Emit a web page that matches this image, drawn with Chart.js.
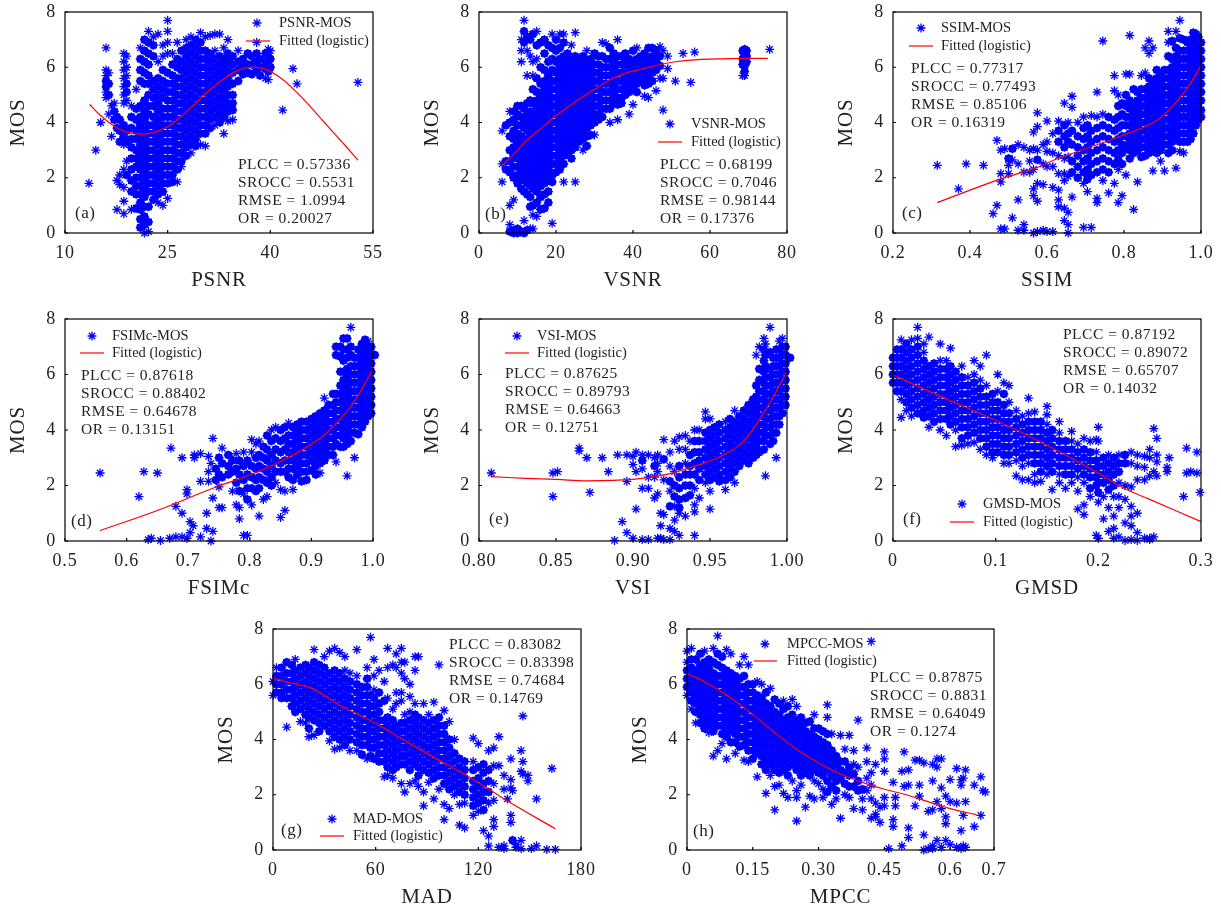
<!DOCTYPE html>
<html>
<head>
<meta charset="utf-8">
<title>MOS scatter plots</title>
<script src="https://cdn.jsdelivr.net/npm/chart.js@4"></script>
<style>
  body { margin: 0; background: #fff; }
  canvas { position: absolute; }
</style>
</head>
<body>
<script>
// each row: x value, then the MOS values at that x
const psnrCols = [
  [13.5,1.8],[14.5,3],[15.2,4],[16,6.7,5.9,5.7,5.5,5.3,5.1,4.9],[16.4,5.8,5.4,5,4.3],[16.8,3.5,4.6],[17.2,4.7,4.4,4.1],
  [17.6,1.9,4.2,3.8,.85],[18,4.1,3.7,3.3,2.1,1.75],[18.6,6.5,6.2,5.9,5.6,5.3,5,4.7,3.9,3.5,3.2,2.3,1.65,1.15,.7],
  [19,6.4,6,5.7,5.4,5.1,4.8,3.7,3.3,2.6,2.1],[19.7,4.6,4.2,3.8,3.4,3.1,2.7,2.3,1.9,1.5,.85],
  [20.4,5.2,4.5,4.1,3.7,3.4,3,2.7,2.4,2,1.7,1.4,.9],
  [21,6.7,6.3,5.9,5.5,4.6,4.2,3.9,3.5,3.2,2.9,2.6,2.3,2,1.7,1.4,1.1,.85,.5,.2],
  [21.6,7,6.6,6.2,5.8,5.4,4.8,4.4,4.1,3.7,3.4,3.1,2.8,2.5,2.2,1.9,1.6,1.3,.95,.6,.3,0],
  [22.2,7.3,6.9,6.5,6.1,5.7,5.4,5,4.6,4.3,3.9,3.6,3.3,3,2.7,2.4,2.1,1.8,1.5,.95,.4,.05],
  [22.9,7.1,6.8,6.4,5.5,5.2,4.9,4.6,4.2,3.9,3.6,3.3,3,2.7,2.4,2.1,1.8,1.5,1.2],
  [23.6,7.2,6.2,5.6,5.3,5,4.7,4.4,4.1,3.8,3.5,3.2,2.9,2.6,2.3,2,1.7,1.4,1.1],
  [24.3,6.8,6.4,5.9,5.5,5.2,4.9,4.5,4.2,3.9,3.6,3.3,3,2.7,2.4,2.1,1.8,1.5,1],
  [25,7.7,7.3,6.9,6.5,5.8,5.4,5.1,4.8,4.5,4.2,3.9,3.6,3.3,3,2.7,2.4,2.1,1.8,1.25],
  [25.7,6.5,6.1,5.7,5.4,5.1,4.8,4.5,4.2,3.9,3.6,3.3,3,2.7,2.4,2.1,1.85],
  [26.4,6.9,6.3,6,5.6,5.3,5,4.7,4.4,4.1,3.8,3.5,3.2,2.9,2.6,2.3,1.85],
  [27,6.6,6.2,5.9,5.6,5.3,5,4.7,4.4,4.1,3.8,3.5,3.2,2.9,2.6,2.4],
  [27.7,7,6.7,6.4,6.1,5.8,5.5,5.2,4.9,4.6,4.3,4,3.7,3.4,3.1,2.8],
  [28.4,7.1,6.8,6.5,6.2,5.9,5.6,5.3,5,4.7,4.4,4.1,3.8,3.5,3.2,2.9],
  [29.1,7,6.7,6.4,6.1,5.8,5.5,5.2,4.9,4.6,4.3,4,3.7,3.4,3.15],
  [29.8,7.25,6.9,6.6,6.3,6,5.7,5.4,5.1,4.8,4.5,4.2,3.9,3.6,3.2],
  [30.5,7.1,6.6,6.3,6,5.7,5.4,5.1,4.8,4.5,4.2,3.9,3.6,3.15],
  [31.2,7.15,6.5,6.2,5.9,5.6,5.3,5,4.7,4.4,4.1,3.8],
  [31.9,7.2,6.6,6.3,6,5.7,5.4,5.1,4.8,4.5,4.2,3.9],
  [32.6,7.2,6.4,6.1,5.8,5.5,5.2,4.9,4.6,4.3,4],
  [33.2,6.7,6.3,6,5.7,5.4,5.1,4.8,4.5,4.2,3.6],
  [33.8,7,6.5,6.2,5.9,5.6,5.3,5,4.7,4.4,4.05],
  [34.5,6.4,6.1,5.8,5.4,5,4.7,4.45,4.1],[35.3,6.6,6.2,5.9,5.5],[36,6.3,6,5.75],[36.7,6.5,6.1,5.8],
  [37.3,6.4,6.1,5.75],[38,6.9,6.5,6.2,5.9],[38.5,6.3,6,5.7],[39.3,6.5,6.2,5.95,5.6],[39.7,6.65,6.4,6.1,5.85,5.55],[40,6.6,6.3,6],
  [41.8,4.45],[43.3,5.95],[43.9,5.4],[52.8,5.45]
];
const psnrFit = [[13.6,4.65],[15,4.3],[17,3.9],[19,3.65],[21.3,3.58],[23,3.64],[25,3.85],[27,4.22],[29,4.68],[31,5.15],[33,5.55],[35,5.86],[36.9,6],[39,5.95],[41,5.7],[43,5.3],[45,4.8],[47,4.25],[49,3.7],[51,3.15],[52.8,2.64]];

const vsnrCols = [
  [6,2.5,1.85,3.7],[7,2.6,2.3,3.9],[8,4.4,4,3.5,3,2.6,2.2,1,.3,.05],[9,4.4,4.1,3.7,3.4,3.1,2.8,2.4,2,1.2,.1,0],
  [10,4.6,4.3,3.9,3.6,3.3,3,2.7,2.4,2.1,1.8,.15,0],[11,7,6.6,6.2,4.6,4.2,3.9,3.5,3.2,2.9,2.6,2.3,2,1.6,.05],
  [11.7,7.7,7.3,6.9,4.5,4.1,3.8,3.4,3.1,2.8,2.5,2.2,1.9,1.5,.45,0],[12.5,7.1,6.6,5.7,4.7,4.3,4,3.7,3.3,3,2.7,2.4,2.1,1.8,1.4,.1],
  [13.3,7,6.4,4.8,4.4,4.1,3.8,3.5,3.2,2.9,2.6,2.3,2,1.7,1.3,.95,.15],[14,7.2,6.2,5.7,5.2,4.7,4.3,4,3.7,3.4,3.1,2.8,2.5,2.2,1.9,1.6,1,.65,.15],
  [15,7.3,6.8,6.3,5.6,5.1,4.8,4.5,4.2,3.9,3.6,3.3,3,2.7,2.4,2.1,1.8,1.5,1.1,.6],
  [16,6.9,6,5.4,5,4.7,4.4,4.1,3.8,3.5,3.2,2.9,2.6,2.3,2,1.7,1.3,.85],[17,7,6.5,5.9,5.5,5.2,4.8,4.5,4.2,3.9,3.6,3.3,3,2.7,2.4,2.1,1.8,1.4,.9],
  [18,6.8,6.2,5.7,5.3,5,4.7,4.4,4.1,3.8,3.5,3.2,2.9,2.6,2.3,1.9,1.5,1.1],[19,7.2,6.7,6.3,5.9,5.5,5.2,4.9,4.6,4.3,4,3.7,3.4,3.1,2.8,2.5,2.1,1.85,.35],
  [20,7,6.6,6.2,5.8,5.5,5.2,4.9,4.6,4.3,4,3.7,3.4,3.1,2.8,2.5,2.2],[21,7.2,6.7,6.3,6,5.6,5.3,5,4.7,4.4,4.1,3.8,3.5,3.2,2.9,2.6,2.3],
  [22,7.2,6.9,6.4,6.1,5.8,5.5,5.2,4.9,4.6,4.3,4,3.7,3.4,3.1,2.8,2.5,1.85],[23,6.5,6.2,5.9,5.6,5.3,5,4.7,4.4,4.1,3.8,3.5,3.2,2.9],
  [24,6.8,6.3,6,5.7,5.4,5.1,4.8,4.5,4.2,3.9,3.6,3.3,3,2.7],[25,7.25,6.4,6.1,5.8,5.5,5.2,4.9,4.6,4.3,4,3.7,3.4,3.1,1.85],
  [26,6.3,6,5.7,5.4,5.1,4.8,4.5,4.2,3.9,3.6,3.3],[27,6.4,6.1,5.8,5.5,5.2,4.9,4.6,4.3,4,3.7,3.4,3],[28,6.6,6.2,5.9,5.6,5.3,5,4.7,4.4,4.1,3.8,3.5,3.15],
  [29,6.3,6,5.7,5.4,5.1,4.8,4.5,4.2,3.9,3.55],[30,6.5,6.1,5.8,5.5,5.2,4.9,4.6,4.3,4,3.55],[31,6.4,6.1,5.8,5.5,5.2,4.9,4.6,4.3,4.1],
  [32,6.9,6.4,6,5.7,5.4,5.1,4.8,4.5,4.2],[33,6.85,6.3,6,5.7,5.4,5.1,4.8,4.5],[34,6.7,6.3,6,5.7,5.4,5.1,4.8,4.5,4],
  [35,6.5,6.2,5.9,5.6,5.3,5,4.7],[36,7,6.4,6.1,5.8,5.5,5.2,4.9,4.65,4.1],[37,6.4,6.1,5.8,5.5,5.2,4.9,4.7],[38,6.5,6.2,5.9,5.6,5.3,5],
  [39,6.3,6,5.7,5.4,5.1,4.3],[40,6.6,6.2,5.9,5.6,5.3,4.65],[41,6.7,6.3,6,5.7,5.4,5.1],[42,6.4,6.1,5.8,5.5],[43,6.5,6.2,5.9,5.6,5.35,4.95],
  [44,6.7,6.3,6,5.7,5.4,4.9],[45,6.7,6.4,6.1,5.8,5.5],[46,6.6,6.2,5.9,5.15],[47,6.75,6.4,6.05,5.6],[47.8,6.6,5.6,4.45],[49,6.4,5.95],[51,5.5],
  [53,6.5],[55,5.45],[56,6.55],[68.5,6.6,6.3,6.1,5.7],[69,6.65,6.45,6.25,6.05,5.85,5.7],[69.5,6.6,6.4,6.2],[75.5,6.65]
];
const vsnrFit = [[6,2.45],[8,2.7],[10,3],[12,3.3],[14,3.55],[16.7,3.85],[20,4.25],[25,4.75],[30,5.2],[34,5.55],[38,5.78],[42.7,5.95],[47,6.1],[51,6.2],[56,6.27],[62,6.3],[68,6.32],[75,6.32]];

const ssimCols = [
  [.315,2.45],[.37,1.6],[.39,2.5],[.435,2.45],[.46,.7],[.47,3.35,1],[.48,3,2.15,1.85,.15],[.49,3.05,.15],[.5,2.7,2.45,2.15],[.51,3.05,2.65,.55],
  [.525,3.2,2.5,1.2,.1],[.54,3.1,2.2,.3,.1],[.555,3,2.6,2.2],[.565,3.65,3.05,2.3,1.6,1.35,0],[.575,4.35,3.85,3,2.65,1.8,1.15,.05],[.59,3.2,2.5,1.75,.1],
  [.6,4.05,3.3,2.95,2.4,0.05],[.615,3.6,2.9,2.4,1.65,.05],[.63,4.05,3.7,3.3,2.8,2.15,1.55,1.2,.95],[.645,4.7,3.9,3.5,3.1,2.7,2.15,1.9,.9,.45],[.655,4,3.6,3.3,2.75,2.05,.75,.3,0],
  [.665,4.95,4.55,3.7,3.2,2.6,2.2,1.3],[.68,4,3.5,3.1,2.8,2.4,2],[.695,4.2,3.8,3.4,3,2.6,2.2,1.8,.2],[.705,3.9,3.5,3.1,2.7,2.3,1.95,1.5],[.715,4.25,3.7,3.3,2.9,2.5,2.1,.2],
  [.73,5.1,4.2,3.8,3.4,3,2.6,2.2,1.25,1.1],[.745,6.95,4.3,3.9,3.5,3.1,2.7,2.3,1.9],[.76,4.2,3.8,3.4,3,2.6,2.2,1.45],[.775,5.7,5.15,4.1,3.7,3.3,2.9,2.5,1.8],[.785,5,4.6,4.2,3.8,3.4,3,2.65,2.3,1.1],
  [.795,4.7,4.3,3.9,3.5,3.2,2.9,2.5,1.35],[.805,5.75,5,4.6,4.2,3.9,3.5,3.1,2.1],[.815,7.15,5.75,4.8,4.5,4.2,3.9,3.6,3.3,3,2.7],[.825,5.2,4.7,4.4,4.1,3.8,3.5,3.2,2.9,.85],
  [.835,5.1,4.8,4.5,4.2,3.9,3.6,3.3,3,1.85],[.845,5.7,5.2,4.9,4.6,4.3,4,3.7,3.4,3.1,2.75],[.855,6.7,5.8,5.2,4.9,4.6,4.3,4,3.7,3.4,3.1,2.8],[.865,6.95,6.5,5.6,5.3,5,4.7,4.4,4.1,3.8,3.5,3.2,2.9],
  [.875,6.7,5.4,5.1,4.8,4.5,4.2,3.9,3.6,3.3,3,2.25],[.885,5.9,5.6,5.3,5,4.7,4.4,4.1,3.8,3.5,3.2,2.9],[.895,5.75,5.4,5.1,4.8,4.5,4.2,3.9,3.6,3.3,3,2.6],[.905,5.9,5.6,5.3,5,4.7,4.4,4.1,3.8,3.5,3.2,2.25],
  [.915,7.3,6.9,6.4,5.9,5.6,5.3,5,4.7,4.4,4.1,3.8,3.5,3.2,2.9],[.925,6.95,6.3,6,5.7,5.4,5.1,4.8,4.5,4.2,3.9,3.6,3.3,3],[.935,7.3,6.7,6.4,6.1,5.8,5.5,5.2,4.9,4.6,4.3,4,3.7,3.4,2.35],
  [.945,7.7,7.05,6.6,6.3,6,5.7,5.4,5.1,4.8,4.5,4.2,3.9,3.6,3.3,2.95],[.955,7,6.6,6.3,6,5.7,5.4,5.1,4.8,4.5,4.2,3.9,3.6,3.3,2.9],[.965,6.9,6.6,6.3,6,5.7,5.4,5.1,4.8,4.5,4.2,3.9,3.6,3.3],
  [.973,7,6.7,6.4,6.1,5.8,5.5,5.2,4.9,4.6,4.3,4,3.7,3.4],[.98,7.25,6.95,6.6,6.3,6,5.7,5.4,5.1,4.8,4.5,4.2,3.9,3.6],[.987,7.2,6.9,6.6,6.3,6,5.7,5.4,5.1,4.8,4.5,4.2,3.9],
  [.993,7.1,6.8,6.5,6.2,5.9,5.6,5.3,5,4.7,4.4,4.1],[1,6.9,6.6,6.3,6,5.7,5.4,5.1,4.8,4.45,4.2],[1.005,6.4,6.1,5.8,5.5]
];
const ssimFit = [[.315,1.1],[.4,1.55],[.48,1.96],[.57,2.35],[.62,2.65],[.7,3.05],[.79,3.5],[.876,4],[.92,4.5],[.962,5.2],[1,6.05]];

const fsimCols = [
  [.557,2.45],[.62,1.6],[.628,2.5],[.635,.05],[.64,.1],[.65,2.45],[.655,.02],[.67,.1],[.672,3.35],[.68,1.25,.15],[.69,3,1,.15],[.698,1.85,1.7,.1],[.703,.7,.3],[.708,.55],[.71,3.1,3],
  [.72,3.15,2.15,.15],[.73,.45,1],[.733,3.05,2.5,2.15],[.737,2.8,0],[.74,3.7,1.55,.35],[.745,2.6,2.2],[.75,3,2.4,1.95,1.2],[.755,3.35,2.8,2.3,1.2],[.765,3.1,2.7,2.4],[.772,2.9,2.5,1.8],[.778,3.15,2.6,2.1,1.3],
  [.783,2.9,2.4,1.8,1.2,.8],[.79,3.2,2.7,2.2,1.7,.2],[.796,2.9,2.4,1.9,1.5,.2],[.803,3.65,3.2,2.7,2.3,1.9,1.3],[.81,3.5,3,2.6,2.2,1.8],[.815,3.6,3.1,2.7,2.3,1.9,.9],[.822,3.4,3,2.6,2.2,1.5],[.828,3.8,3.3,2.9,2.5,2.1,1.6],
  [.835,4,3.6,3.1,2.7,2.3,2],[.842,4.1,3.7,3.3,2.9,2.5,2.1],[.85,4,3.6,3.2,2.8,2.5,1.85,.85],[.857,4.1,3.7,3.3,2.9,2.5,1.8,1.1],[.863,4.25,3.8,3.5,3.2,2.9,2.6,2.3],[.87,4.1,3.8,3.5,3.2,2.9,2.6,2.2,1.85],
  [.877,4.2,3.9,3.6,3.3,3,2.7,2.4],[.884,4.3,4,3.7,3.4,3.1,2.8,2.5,2.15],[.892,4.3,4,3.7,3.4,3.1,2.8,2.5,2.2],[.9,4.4,4.1,3.8,3.5,3.2,2.9,2.55],[.907,4.5,4.2,3.9,3.6,3.3,3,2.7,2.4],[.914,4.6,4.3,4,3.7,3.4,3.1,2.8,2.45],
  [.921,5.15,4.7,4.4,4.1,3.8,3.5,3.2,2.9],[.928,4.9,4.6,4.3,4,3.7,3.4,3.1],[.935,5.3,4.9,4.6,4.3,4,3.7,3.4,3.1],[.94,7,6.7,5.3,5,4.7,4.4,4.1,3.8,3.5,2.85],[.947,7,6.65,6.1,5.6,5.3,5,4.7,4.4,4.1,3.8,3.4],[.952,7.3,6.9,6.5,6.1,5.8,5.5,5.2,4.9,4.6,4.3,4,3.7,3.4],
  [.958,7.3,6.9,6.6,6.2,5.9,5.6,5.3,5,4.7,4.4,4.1,3.8,3.5,2.35],[.964,7.7,7,6.7,6.3,6,5.7,5.4,5.1,4.8,4.5,4.2,3.9,3.6],[.97,6.6,6.3,6,5.7,5.4,5.1,4.8,4.5,4.2,3.9,3],[.976,6.9,6.6,6.3,6,5.7,5.4,5.1,4.8,4.5,4.2,3.85],
  [.982,7.1,6.8,6.5,6.2,5.9,5.6,5.3,5,4.7,4.4,4.1],[.987,7.25,7,6.7,6.4,6.1,5.8,5.5,5.2,4.9,4.6,4.3],[.992,7.2,6.9,6.6,6.3,6,5.7,5.4,5.1,4.8,4.5],[.997,7,6.7,6.4,6.1,5.8,5.5,5.2,4.9,4.6],[1.003,6.7,6.4,6.1,5.8,5.5,5.2]
];
const fsimFit = [[.557,.38],[.65,1.1],[.74,1.9],[.806,2.43],[.86,2.98],[.914,3.7],[.947,4.4],[.969,5],[.985,5.6],[1,6.2]];

const vsiCols = [
  [.808,2.45],[.848,1.6,2.45],[.851,2.5],[.865,3.35,3.25],[.87,3],[.872,1.75],[.88,3],[.884,2.5],[.888,.02],[.89,3.1],[.893,.7],[.896,3.1,.3,2.15],[.9,3.05,2.75,.1],[.902,3.2,2.5,1.15],
  [.906,3.1,2.9,2.6,1.9,.05],[.91,3.1,2.3,1.9,.05],[.914,3,2.7,2.3,1.55],[.916,3.1,2.8,2.5,1.7,.1],[.918,1,.55,0.1],[.92,3.65,2.95,2.2,.95,.05],[.924,3.2,2.7,2.15,1.8,1.25,.45,.05],[.927,3.6,2.5,2,1.6,1.25,.75,.35],
  [.93,3.75,3.3,2.7,2.3,1.9,1.5,1.2,1,.2],[.934,3.8,3.3,2.8,2.4,2,1.55,.9],[.937,3.6,3.1,2.7,2.4,2,1.65],[.94,4,3.6,3.2,2.8,2.4,1.9,1.3,1.05,.2],[.943,4,3.6,3.2,2.9,2.6,2.2,1.55],[.947,4.65,4.4,3.9,3.6,3.3,3,2.7,2.4,2.1],
  [.95,4.4,4,3.7,3.4,3.1,2.8,2.5,2.2,1.8,1.15],[.953,4.1,3.8,3.5,3.2,2.9,2.6,2.3],[.956,4.2,3.9,3.6,3.3,3,2.7,2.4,2.15],[.96,4.3,4,3.7,3.4,3.1,2.8,2.5,2.2,1.85],[.963,4.4,4.1,3.8,3.5,3.2,2.9,2.6,2.3],
  [.966,4.7,4.3,4,3.7,3.4,3.1,2.8,2.5,2.1],[.969,4.5,4.2,3.9,3.6,3.3,3,2.7],[.972,4.7,4.4,4.1,3.8,3.5,3.2,2.9],[.975,4.9,4.6,4.3,4,3.7,3.4,3.1,2.8],[.978,5.1,4.8,4.5,4.2,3.9,3.6,3.3,3],
  [.98,6.7,5.6,5.2,4.9,4.6,4.3,4,3.7,3.4,3.1],[.982,7,6.2,5.8,5.4,5.1,4.8,4.5,4.2,3.9,3.6,3.2],[.985,7.3,6.9,6.5,6.1,5.7,5.4,5.1,4.8,4.5,4.2,3.9,3.6,3.3],[.986,7.1,6.7,6.3,5.9,5.6,5.3,5,4.7,4.4,4.1,3.8,2.35],
  [.989,7.7,6.8,6.2,5.9,5.6,5.3,5,4.7,4.4,4.1,3.8,3.5],[.991,6.6,6.3,6,5.7,5.4,5.1,4.8,4.5,4.2,3.9,3.6],[.993,6.9,6.6,6.3,6,5.7,5.4,5.1,4.8,4.5,4.2,3.9,3],[.995,7.2,6.9,6.6,6.3,6,5.7,5.4,5.1,4.8,4.5,4.2],
  [.997,7.3,7,6.7,6.4,6.1,5.8,5.5,5.2,4.9,4.6],[.999,7,6.7,6.4,6.1,5.8,5.5,5.2,4.9],[1.002,6.6,6.3,6,5.7,5.4,5.1]
];
const vsiFit = [[.808,2.32],[.83,2.26],[.85,2.22],[.87,2.17],[.9,2.22],[.92,2.38],[.94,2.7],[.955,3],[.97,3.5],[.98,4.2],[.99,5.1],[1,6.1]];

const gmsdCols = [
  [0,6.6,6.3,6,5.7],[.004,6.9,6.6,6.3,6,5.7,5.4],[.008,7.25,6.9,6.6,6.3,6,5.7,5.4,5.1,4.45],[.013,7.1,6.8,6.5,6.2,5.9,5.6,5.3,5,4.7],[.018,7.25,6.9,6.6,6.3,6,5.7,5.4,5.1,4.8,4.5],
  [.024,7.7,7.3,7,6.7,6.4,6.1,5.8,5.5,5.2,4.9,4.6],[.03,7.1,6.8,6.5,6.2,5.9,5.6,5.3,5,4.7,4.45],[.035,7.35,6.3,6,5.7,5.4,5.1,4.8,4.5,4.1],[.04,6.4,6.1,5.8,5.5,5.2,4.9,4.6,4.3],
  [.046,7.1,6.5,6.2,5.9,5.6,5.3,5,4.7,4.4,4],[.052,6.5,6.2,5.9,5.6,5.3,5,4.7,4.4,3.8],[.056,6.95,6.3,6,5.7,5.4,5.1,4.8,4.5,4.2],[.061,6.1,5.8,5.5,5.2,4.9,4.6,4.3,4,3.4],[.067,6.3,5.9,5.6,5.3,5,4.7,4.4,4.1,3.7,3.45],
  [.073,5.9,5.6,5.3,5,4.7,4.4,4.1,3.8,3.5],[.079,6.5,6,5.7,5.4,5.1,4.8,4.5,4.2,3.9,3.55],[.085,6.3,5.8,5.5,5.2,4.9,4.6,4.3,4,3.7,3.3],[.091,6.7,5.6,5.2,4.9,4.6,4.3,4,3.7,3.4,3.1],[.097,5.3,5,4.7,4.4,4.1,3.8,3.5,3.2,3],
  [.102,6,5.4,5,4.7,4.4,4.1,3.8,3.5,3.2],[.108,5.7,5.3,4.9,4.6,4.3,4,3.7,3.4,3.1,2.8],[.113,5.6,5,4.6,4.3,4,3.7,3.4,3.1,2.8],[.12,4.7,4.4,4.1,3.8,3.5,3.2,2.9,2.35],[.126,4.5,4.2,3.9,3.6,3.3,3,2.7,2.2],
  [.132,5.15,4.6,4.3,4,3.7,3.4,3.1,2.8,2.2],[.138,4.65,4.3,4,3.7,3.4,3.1,2.8,2.4,2.1],[.144,4.3,4,3.7,3.4,3.1,2.8,2.5,2.15],[.15,4.85,4.55,4.2,3.9,3.6,3.3,3,2.7,2.4],[.155,4,3.7,3.4,3.1,2.8,2.5,1.85],
  [.162,4.3,3.9,3.6,3.3,3,2.7,2.4,2.1],[.168,3.6,3.3,3,2.7,2.4,1.9],[.174,3.95,3.6,3.3,3,2.7,2.4,2.1],[.18,3.5,3.2,2.9,2.6,2.3,1.8,1.15],[.186,3.7,3.3,3,2.7,2.4,2.1,1.3,.95],[.192,3.6,3.2,2.9,2.6,2.3,1.9,1.6],
  [.198,3.65,3.2,2.9,2.6,2.3,2,.2],[.2,4.1,3.6,2.7,2.4,2.1,1.75,1.4,.1],[.205,3,2.7,2.4,2.1,1.6,.8],[.21,3.1,2.8,2.5,2.2,1.85,1.2,.35],[.215,3,2.7,2.4,2,1.6,.9,.45,.1],[.22,3.1,2.8,2.5,2.1,1.6,1.2,.15],
  [.226,3.1,2.8,2,1.5,.65,.02],[.232,3.2,2.8,1.95,1.25,.9,.55,.05],[.238,3.1,2.7,2.2,1,.3,.02],[.245,3.05,2.65,2.2,.1],[.25,3.3,3,2.35,.1,.05],[.254,4.05,2.5,.15],[.257,3.7,3.1,2.85,2.35],[.269,3],[.267,2.65,2.5],
  [.283,1.6],[.286,3.35,2.45],[.29,2.5],[.296,3.2,2.45],[.299,1.75]
];
const gmsdFit = [[0,5.98],[.05,5.15],[.1,4.35],[.15,3.45],[.2,2.45],[.225,1.9],[.25,1.5],[.3,.7]];

const madCols = [
  [0,6.1,5.6],[2,6.6,6.3,6,5.7],[5,6.6,6.3,6,5.7,5.5],[8,6.8,6.4,6.1,5.8,5.5,4.45],[11,6.7,6.4,6.1,5.8,5.5,5.2],[13,6.9,6.5,6.2,5.9,5.6,5.3,5],[16,6.6,6.3,6,5.7,5.4,5.1,4.65],[19,6.7,6.4,6.1,5.8,5.5,5.2,4.9,4.6],
  [21,6.6,6.3,6,5.7,5.4,5.1,4.8,4.4,4.1],[24,7.25,6.8,6.5,6.2,5.9,5.6,5.3,5,4.7,4.15],[27,6.7,6.4,6.1,5.8,5.5,5.2,4.9,4.6,4.3],[30,7,6.6,6.3,6,5.7,5.4,5.1,4.8,4.5],[33,7.2,6.4,6.1,5.8,5.5,5.2,4.9,4.6,4.3,3.95],[36,7.3,6.5,6.2,5.9,5.6,5.3,5,4.7,4.4,4.1,3.65],
  [39,7.15,6.4,6.1,5.8,5.5,5.2,4.9,4.6,4.3,4,3.7],[42,7,6.5,6.2,5.9,5.6,5.3,5,4.7,4.4,4.1,3.8],[45,6.4,6.1,5.8,5.5,5.2,4.9,4.6,4.3,4,3.6],[49,7.25,6.3,6,5.7,5.4,5.1,4.8,4.5,4.2,3.9,3.6],[52,5.9,5.6,5.3,5,4.7,4.4,4.1,3.8,3.45],
  [55,6.6,6.2,5.9,5.6,5.3,5,4.7,4.4,4.1,3.8,3.3],[57,7.7,5.6,5.2,4.9,4.6,4.3,4,3.7,3.4],[59,6.9,6.3,5.8,5.5,5.2,4.9,4.6,4.3,4,3.7,3.3],[62,6.5,5.7,5.3,5,4.7,4.4,4.1,3.8,3.5,3.2],[65,6.1,5.4,4.7,4.4,4.1,3.8,3.5,3.2,2.65],
  [67,7.3,6.6,5.5,4.8,4.5,4.2,3.9,3.6,3.3,3,2.7],[70,6.7,5.1,4.7,4.4,4.1,3.8,3.5,3.2,2.9,2.6],[72,7.1,6.6,5.7,5.3,4.5,4.2,3.9,3.6,3.3,3],[75,7.3,6.8,6.4,5.7,5.4,4.6,4.3,4,3.7,3.4,3.1,2.4],[77,6.8,6.2,4.9,4.6,4.3,4,3.7,3.4,3.1,2.1],
  [80,6,5.55,5,4.7,4.4,4.1,3.8,3.5,3.2,2.9,2.4],[83,7,6.5,5.3,4.9,4.6,4.3,4,3.7,3.4,3.1,2.5],[85,7,4.8,4.5,4.2,3.9,3.6,3.3,3,2.7,2.3],[88,5.3,4.7,4.4,4.1,3.8,3.5,3.2,2.9,2.1,1.6],[91,4.9,4.6,4.3,4,3.7,3.4,3.1,2.8,2.45],[94,5.35,4.7,4.4,4.1,3.8,3.5,3.2,2.9,2.6,1.85],
  [97,6.7,4.8,4.5,4.2,3.9,3.6,3.3,3,2.7,2.2],[100,5.05,4.5,4.2,3.9,3.6,3.3,3,2.7,2.4,1.65,1.1],[103,4.65,4,3.7,3.4,3.1,2.8,2.5,2.2,1.5],[106,4,3.5,3.2,2.9,2.6,2.3,2],[109,3.3,3,2.7,2.4,2.1,1.65,.9],[112,3.2,2.9,2.6,2.3,2,1.7,.8],
  [117,4.05,3.2,2.9,2.5,2.2,1.9,1.6,1.25],[120,3.85,3,2.6,2.3,2,1.7,1.4],[123,3.1,2.8,2.4,2.1,1.8,1.45,.7],[126,3.6,2.9,2.5,2.1,1.7,.5,.15],[129,3.7,3.05,2.4,1.8,1.1,.85],[132,4.1,3.05,.1],[135,2.7,2.2,.15,.05],
  [137,1.85],[139,3.3,2.55,2.25,1.25,1],[140,2.15,.35],[142,.2,.1],[145,3.6,2.85,.35,.05],[146,3.2,2.75,4.85],[149,2.7,2.5],[151,.05],[154,.15,1.85],[160,.02],[163,2.95],[165,.02]
];
const madFit = [[0,6.22],[10,6.05],[22,5.88],[30,5.6],[40,5.2],[50,4.9],[60.8,4.55],[80,3.85],[100,3.15],[119,2.48],[139,1.7],[165,.77]];

const mpccCols = [
  [0,7.2,6.8,6.5,6.2,5.9,5.6],[.01,7.3,6.9,6.6,6.3,6,5.7,5.4,5.1],[.02,6.9,6.5,6.2,5.9,5.6,5.3,5,4.6],[.03,7.1,6.7,6.4,6.1,5.8,5.5,5.2,4.9,4.6],[.04,7.2,6.8,6.5,6.2,5.9,5.6,5.3,5,4.7,4.4],[.05,6.9,6.6,6.3,6,5.7,5.4,5.1,4.8,4.5,4.25],
  [.06,7.3,6.8,6.4,6.1,5.8,5.5,5.2,4.9,4.6,4.3,3.4],[.07,7.75,7.1,6.7,6.3,6,5.7,5.4,5.1,4.8,4.5,3.6],[.08,7,6.6,6.3,6,5.7,5.4,5.1,4.8,4.5,4.2,3.85],[.09,7.25,6.5,6.2,5.9,5.6,5.3,5,4.7,4.4,4.1,3.3],[.1,7.1,6.4,6.1,5.8,5.5,5.2,4.9,4.6,4.3,3.9],
  [.11,6.3,6,5.7,5.4,5.1,4.8,4.5,4.2,3.9,3.5],[.12,6.7,6.2,5.9,5.6,5.3,5,4.7,4.4,4.1,3.75],[.13,7,6.3,5.9,5.6,5.3,5,4.7,4.4,4.1,3.8,3.25],[.14,6.7,6,5.7,5.4,5.1,4.8,4.5,4.2,3.9,3.6,3.2],[.15,6,5.7,5.4,5.1,4.8,4.5,4.2,3.9,3.6,3.3],
  [.16,6.1,5.6,5.3,5,4.7,4.4,4.1,3.8,3.5,2.65],[.17,6,5.5,5.2,4.9,4.6,4.3,4,3.7,3.4,3.1],[.18,5.7,5.3,5,4.7,4.4,4.1,3.8,3.5,3.2,2.9,2.05],[.19,5.85,5.2,4.9,4.6,4.3,4,3.7,3.4,3.1,2.7],[.2,5.45,5,4.7,4.4,4.1,3.8,3.5,3.2,2.9,2.3,1.45],
  [.21,5.3,4.9,4.6,4.3,4,3.7,3.4,3.1,2.8,2.35],[.22,5.4,5.1,4.7,4.4,4.1,3.8,3.5,3.2,2.9,2.05],[.23,5.2,4.8,4.5,4.2,3.9,3.6,3.3,3,2.7,1.9],[.24,5.45,4.9,4.6,4.3,4,3.7,3.4,3.1,2.5],[.25,5.2,4.7,4.4,4.1,3.8,3.5,3.2,2.9,2.15,1.9,1.05],
  [.26,4.8,4.5,4.2,3.9,3.6,3.3,3,2.7,2.35],[.27,4.6,4.3,4,3.7,3.4,3.1,2.8,1.55],[.28,4.65,4.2,3.9,3.6,3.3,3,2.7,1.95],[.29,4.9,4.4,4.1,3.8,3.5,3.2,2.9,2.5,1.85],[.3,4.4,4,3.7,3.4,3.1,2.8,2.4],[.31,4.3,3.9,3.6,3.3,3,2.7,2.2,1.9],
  [.32,4.8,5.25,4.2,3.8,3.5,3.2,2.9,2.5,2.1],[.33,4.2,3.6,3.3,3,2.7,2.3,1.65],[.34,3.4,3.1,2.8,2.5,2.15,1.85],[.35,4.15,3.2,2.9,2.6,1.15],[.36,3.65,3.2,2.8,2.4,2],[.37,4.15,3,2.7,2.3,1.9],
  [.38,3.6,3.1,2.75,2.3,1.5],[.39,4.7,3,2.5,2.15],[.4,1.85,2.2,1.45],[.41,3.7,3.2,2.6,2.15],[.42,2.8,2.35,1.85,1.15],[.43,3.1,1.7,1.3,1.2],[.44,1.55,1],[.45,3.55,3.3,2.85,1.9,1.6],[.46,.05],[.47,2.45,1.1,.85],[.475,1.9,1.6],
  [.49,2.85,.15],[.495,3.55,2.3],[.505,2.9,2.35,.8,.45],[.52,3.25,1.6],[.53,3.25,2.35,1.95],[.54,3.15,.55,0],[.55,1.4,.05],[.56,3.1,2.5,1.45,.05,.15],[.57,3.3,3,1.75,.35],[.58,3.3,2.25,1.5,.1],[.59,1.95,1.2,.95,.35],
  [.6,2.55,1.75,.2],[.615,2.95,1.7,.1],[.625,2.55,2.35,.7,.05],[.63,2.6,1.25,.15],[.635,2.9,1.75,.1],[.655,2.35,.85],[.67,2.65,1.25],[.675,2.15],[.68,2.1],[.42,7.55]
];
const mpccFit = [[0,6.4],[.05,6],[.1,5.5],[.15,4.9],[.2,4.25],[.25,3.65],[.3,3.15],[.35,2.75],[.4,2.45],[.45,2.2],[.5,2],[.55,1.75],[.6,1.5],[.66,1.28]];

const mosTicks = [0,2,4,6,8];
const mosLabels = ['0','2','4','6','8'];
const statNames = ['PLCC','SROCC','RMSE','OR'];

// plot box and text spots are page pixels
const panels = [
  { name:'PSNR', tag:'(a)', cols:psnrCols, fit:psnrFit, min:10, max:55, ticks:[10,25,40,55], labels:['10','25','40','55'], stats:['0.57336','0.5531','1.0994','0.20027'],
    box:[65,12,373,233], star:[257,23], text:279, line:[246,270,41], statAt:[238,165], tagAt:[75,214] },
  { name:'VSNR', tag:'(b)', cols:vsnrCols, fit:vsnrFit, min:0, max:80, ticks:[0,20,40,60,80], labels:['0','20','40','60','80'], stats:['0.68199','0.7046','0.98144','0.17376'],
    box:[479,12,787,233], star:[670,124], text:691, line:[658,682,142], statAt:[660,165], tagAt:[485,215] },
  { name:'SSIM', tag:'(c)', cols:ssimCols, fit:ssimFit, min:.2, max:1, ticks:[.2,.4,.6,.8,1], labels:['0.2','0.4','0.6','0.8','1.0'], stats:['0.77317','0.77493','0.85106','0.16319'],
    box:[893,12,1201,233], star:[921,28], text:941, line:[909,933,46], statAt:[911,69], tagAt:[902,214] },
  { name:'FSIMc', tag:'(d)', cols:fsimCols, fit:fsimFit, min:.5, max:1, ticks:[.5,.6,.7,.8,.9,1], labels:['0.5','0.6','0.7','0.8','0.9','1.0'], stats:['0.87618','0.88402','0.64678','0.13151'],
    box:[65,319,373,541], star:[92,336], text:112, line:[80,104,353], statAt:[81,376], tagAt:[71,522] },
  { name:'VSI', tag:'(e)', cols:vsiCols, fit:vsiFit, min:.8, max:1, ticks:[.8,.85,.9,.95,1], labels:['0.80','0.85','0.90','0.95','1.00'], stats:['0.87625','0.89793','0.64663','0.12751'],
    box:[479,319,787,541], star:[517,336], text:537, line:[505,529,353], statAt:[505,374], tagAt:[489,520] },
  { name:'GMSD', tag:'(f)', cols:gmsdCols, fit:gmsdFit, min:0, max:.3, ticks:[0,.1,.2,.3], labels:['0','0.1','0.2','0.3'], stats:['0.87192','0.89072','0.65707','0.14032'],
    box:[893,319,1201,541], star:[962,504], text:983, line:[950,974,522], statAt:[1063,335], tagAt:[903,520] },
  { name:'MAD', tag:'(g)', cols:madCols, fit:madFit, min:0, max:180, ticks:[0,60,120,180], labels:['0','60','120','180'], stats:['0.83082','0.83398','0.74684','0.14769'],
    box:[273,629,581,850], star:[332,819], text:353, line:[320,344,836], statAt:[449,645], tagAt:[281,831] },
  { name:'MPCC', tag:'(h)', cols:mpccCols, fit:mpccFit, min:0, max:.7, ticks:[0,.15,.3,.45,.6,.7], labels:['0','0.15','0.30','0.45','0.6','0.7'], stats:['0.87875','0.8831','0.64049','0.1274'],
    box:[687,629,994,850], star:[765,644], text:787, line:[754,777,661], statAt:[870,678], tagAt:[693,832] }
];

const serif = 'Liberation Serif';
const padLeft = 66, padTop = 14, padRight = 18, padBottom = 60;

const framePlugin = {
  id: 'frame',
  beforeDraw(chart) { chart.ctx.letterSpacing = '0.8px'; },
  afterDatasetsDraw(chart) {
    const p = chart.options.plugins.frame.panel;
    const ctx = chart.ctx;
    const a = chart.chartArea;
    const ox = p.box[0] - padLeft, oy = p.box[1] - padTop;
    ctx.save();
    ctx.strokeStyle = '#000';
    ctx.lineWidth = 1.2;
    ctx.strokeRect(a.left, a.top, a.right - a.left, a.bottom - a.top);
    // short inward ticks
    ctx.beginPath();
    chart.scales.x.ticks.forEach(t => {
      const x = chart.scales.x.getPixelForValue(t.value);
      ctx.moveTo(x, a.bottom); ctx.lineTo(x, a.bottom - 3);
    });
    chart.scales.y.ticks.forEach(t => {
      const y = chart.scales.y.getPixelForValue(t.value);
      ctx.moveTo(a.left, y); ctx.lineTo(a.left + 3, y);
    });
    ctx.stroke();

    // legend
    ctx.strokeStyle = '#0000ff';
    ctx.lineWidth = 1.3;
    Chart.helpers.drawPoint(ctx, { pointStyle:'star', radius:4.5, rotation:0, borderWidth:1.3 }, p.star[0] - ox, p.star[1] - oy);
    ctx.strokeStyle = '#ff0000';
    ctx.lineWidth = 1.2;
    ctx.beginPath();
    ctx.moveTo(p.line[0] - ox, p.line[2] - oy);
    ctx.lineTo(p.line[1] - ox, p.line[2] - oy);
    ctx.stroke();
    ctx.fillStyle = '#222';
    ctx.textBaseline = 'middle';
    ctx.letterSpacing = '0px';
    ctx.font = '14.5px "' + serif + '"';
    ctx.fillText(p.name + '-MOS', p.text - ox, p.star[1] - oy);
    ctx.fillText('Fitted (logistic)', p.text - ox, p.line[2] - oy);

    // stats block
    ctx.letterSpacing = '0.5px';
    ctx.font = '15.5px "' + serif + '"';
    p.stats.forEach((v, i) => {
      ctx.fillText(statNames[i] + ' = ' + v, p.statAt[0] - ox, p.statAt[1] + i * 18 - oy);
    });
    ctx.font = '17px "' + serif + '"';
    ctx.fillText(p.tag, p.tagAt[0] - ox, p.tagAt[1] - oy);
    ctx.restore();
  }
};

panels.forEach(p => {
  const canvas = document.createElement('canvas');
  const w = p.box[2] - p.box[0], h = p.box[3] - p.box[1];
  canvas.width = padLeft + w + padRight;
  canvas.height = padTop + h + padBottom;
  canvas.style.left = (p.box[0] - padLeft) + 'px';
  canvas.style.top = (p.box[1] - padTop) + 'px';
  document.body.appendChild(canvas);

  const points = p.cols.flatMap(c => c.slice(1).map(y => [c[0], y]));
  // the thick of each cloud: points with many near neighbours get a solid dot under the stars
  const pxX = w / (p.max - p.min), pxY = h / 8;
  const crowded = points.filter(a => points.filter(b => {
    const dx = (a[0] - b[0]) * pxX, dy = (a[1] - b[1]) * pxY;
    return dx * dx + dy * dy < 144;
  }).length >= 7);

  new Chart(canvas, {
    type: 'scatter',
    plugins: [framePlugin],
    data: {
      datasets: [
        {
          label: 'Fitted (logistic)',
          data: p.fit,
          showLine: true,
          borderColor: '#ff0000',
          borderWidth: 1.2,
          pointRadius: 0,
          tension: 0.4,
          clip: false
        },
        {
          label: p.name + '-MOS',
          data: points,
          pointStyle: 'star',
          pointRadius: 4.5,
          pointBorderColor: '#0000ff',
          pointBorderWidth: 1.3,
          clip: false
        },
        {
          label: 'dense',
          data: crowded,
          pointStyle: 'circle',
          pointRadius: 4,
          pointBackgroundColor: '#0000ff',
          pointBorderWidth: 0,
          clip: false
        }
      ]
    },
    options: {
      responsive: false,
      animation: false,
      devicePixelRatio: 1,
      layout: { padding: { top: padTop, right: padRight, left: 0, bottom: 0 } },
      plugins: { legend: { display: false }, tooltip: { enabled: false }, frame: { panel: p } },
      scales: {
        x: {
          type: 'linear',
          min: p.min,
          max: p.max,
          afterFit: s => { s.height = padBottom; s.paddingLeft = 0; s.paddingRight = 0; },
          afterBuildTicks: s => { s.ticks = p.ticks.map(v => ({ value: v })); },
          grid: { drawOnChartArea: false, drawTicks: false },
          border: { display: false },
          ticks: {
            autoSkip: false, maxRotation: 0, padding: 9, color: '#222',
            font: { family: serif, size: 18 },
            callback: (v) => p.labels[p.ticks.indexOf(v)]
          },
          title: { display: true, text: p.name, color: '#222', font: { family: serif, size: 21 }, padding: { top: 0, bottom: 0 } }
        },
        y: {
          min: 0,
          max: 8,
          afterFit: s => { s.width = padLeft; s.paddingTop = 0; s.paddingBottom = 0; },
          afterBuildTicks: s => { s.ticks = mosTicks.map(v => ({ value: v })); },
          grid: { drawOnChartArea: false, drawTicks: false },
          border: { display: false },
          ticks: {
            autoSkip: false, padding: 9, color: '#222',
            font: { family: serif, size: 18 },
            callback: (v) => mosLabels[mosTicks.indexOf(v)]
          },
          title: { display: true, text: 'MOS', color: '#222', font: { family: serif, size: 21 }, padding: { top: 7, bottom: 0 } }
        }
      }
    }
  });
});
</script>
</body>
</html>
